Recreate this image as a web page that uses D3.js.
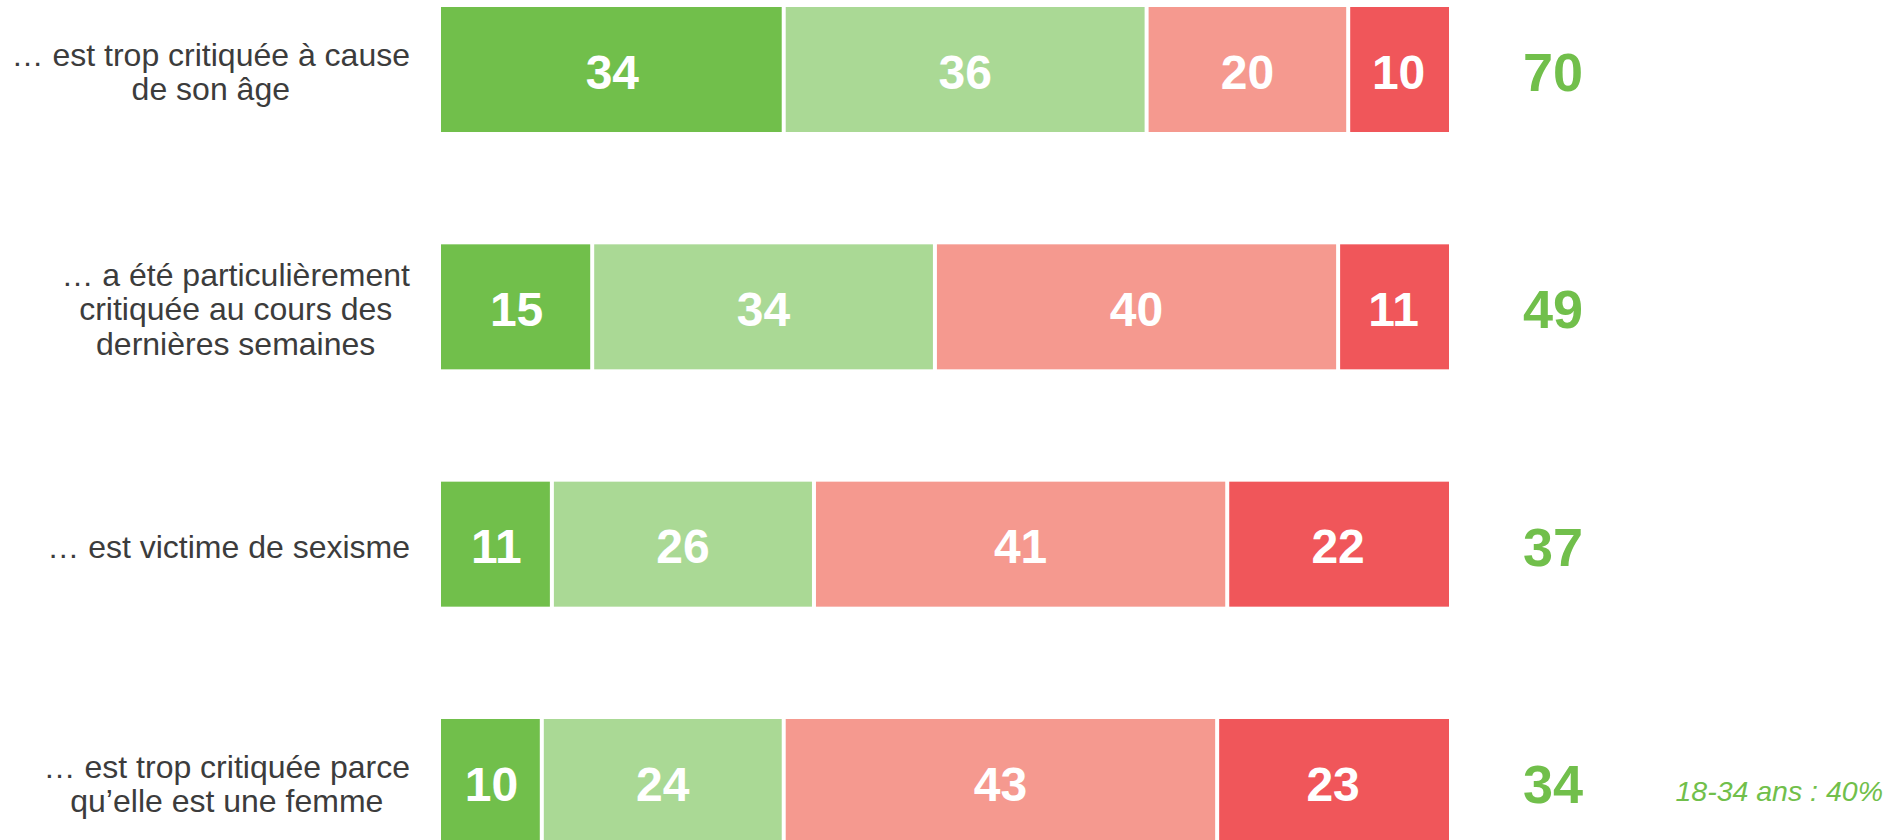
<!DOCTYPE html>
<html>
<head>
<meta charset="utf-8">
<script src="https://cdn.jsdelivr.net/npm/d3@7"></script>
<style>
  body { margin: 0; background: #fff; }
  svg { display: block; font-family: Arial, "Liberation Sans", sans-serif; }
</style>
</head>
<body>
<script>
// statements (each one split into its lines)
var statements = [
  ["… est trop critiquée à cause", "de son âge"],
  ["… a été particulièrement", "critiquée au cours des", "dernières semaines"],
  ["… est victime de sexisme"],
  ["… est trop critiquée parce", "qu’elle est une femme"]
];
// answers: tout à fait d'accord, plutôt d'accord, plutôt pas, pas du tout
var answers = ["Tout à fait", "Plutôt", "Plutôt pas", "Pas du tout"];
var toutAFait  = [34, 15, 11, 10];
var plutot     = [36, 34, 26, 24];
var plutotPas  = [20, 40, 41, 43];
var pasDuTout  = [10, 11, 22, 23];
// total d'accord
var totals = [70, 49, 37, 34];
var notes = ["", "", "", "18-34 ans : 40%"];

var colors = ["#71bf4b", "#aad995", "#f5998f", "#f0565a"];

var width = 1889, height = 840;

var svg = d3.select("body").append("svg")
  .attr("width", width)
  .attr("height", height);

var x = d3.scaleLinear().domain([0, 100]).range([441, 1449]);

var y = d3.scaleBand()
  .domain(d3.range(statements.length))
  .range([7, 844])
  .paddingInner(0.4733)
  .paddingOuter(0);

var series = [toutAFait, plutot, plutotPas, pasDuTout];
var stackData = statements.map(function(s, i){
  var row = {};
  answers.forEach(function(a, k){ row[a] = series[k][i]; });
  return row;
});
var stacked = d3.stack().keys(answers)(stackData);

var gap = 2;
var layers = svg.selectAll(".layer")
  .data(stacked)
  .enter().append("g")
  .attr("class", "layer")
  .attr("fill", function(d, k){ return colors[k]; });

layers.each(function(layer, k){
  var g = d3.select(this);
  var last = k === answers.length - 1;
  g.selectAll("rect")
    .data(layer)
    .enter().append("rect")
    .attr("x", function(d){ return x(d[0]) + (k > 0 ? gap : 0); })
    .attr("width", function(d){ return x(d[1]) - x(d[0]) - (k > 0 ? gap : 0) - (last ? 0 : gap); })
    .attr("y", function(d, i){ return y(i); })
    .attr("height", y.bandwidth());

  g.selectAll("text")
    .data(layer)
    .enter().append("text")
    .attr("x", function(d){ return (x(d[0]) + x(d[1])) / 2; })
    .attr("y", function(d, i){ return y(i) + y.bandwidth() / 2 + 2; })
    .attr("dy", "0.36em")
    .attr("text-anchor", "middle")
    .attr("fill", "#fff")
    .style("font-weight", "bold")
    .style("font-size", "48px")
    .text(function(d){ return d[1] - d[0]; });
});

// statement labels on the left, lines centred on the longest line
var lineH = 34.5, labelRight = 410;
statements.forEach(function(lines, i){
  var g = svg.append("g").attr("class", "label");
  var cy = y(i) + y.bandwidth() / 2 + 2;
  var texts = g.selectAll("text")
    .data(lines)
    .enter().append("text")
    .attr("y", function(d, j){ return cy + (j - (lines.length - 1) / 2) * lineH; })
    .attr("dy", "0.36em")
    .attr("text-anchor", "middle")
    .attr("fill", "#3c3c3c")
    .style("font-size", "32px")
    .text(function(d){ return d; });
  var maxW = d3.max(texts.nodes(), function(n){ return n.getComputedTextLength(); });
  texts.attr("x", labelRight - maxW / 2);
});

// totals
svg.selectAll(".total")
  .data(totals)
  .enter().append("text")
  .attr("class", "total")
  .attr("x", 1553)
  .attr("y", function(d, i){ return y(i) + y.bandwidth() / 2 + 2; })
  .attr("dy", "0.36em")
  .attr("text-anchor", "middle")
  .attr("fill", "#71bf4b")
  .style("font-weight", "bold")
  .style("font-size", "54px")
  .text(function(d){ return d; });

// side notes
svg.selectAll(".note")
  .data(notes)
  .enter().append("text")
  .attr("class", "note")
  .attr("x", 1883)
  .attr("y", function(d, i){ return y(i) + y.bandwidth() / 2 + 9; })
  .attr("dy", "0.36em")
  .attr("text-anchor", "end")
  .attr("fill", "#71bf4b")
  .style("font-style", "italic")
  .style("font-size", "28.5px")
  .text(function(d){ return d; });
</script>
</body>
</html>
